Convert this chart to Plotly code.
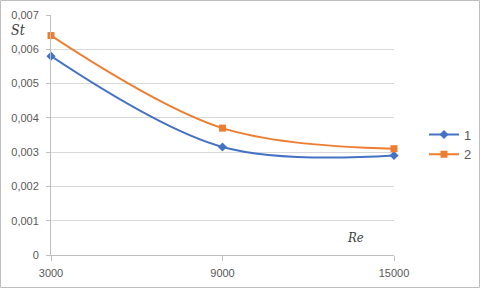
import plotly.graph_objects as go

re_values = [3000, 9000, 15000]
st_series1 = [0.0058, 0.00315, 0.0029]
st_series2 = [0.0064, 0.0037, 0.0031]
series_names = ["1", "2"]
y_tick_vals = [0, 0.001, 0.002, 0.003, 0.004, 0.005, 0.006, 0.007]
y_tick_text = ["0", "0,001", "0,002", "0,003", "0,004", "0,005", "0,006", "0,007"]
x_tick_text = ["3000", "9000", "15000"]

W, H = 481, 289
ML, MR, MT, MB = 51, 87, 15, 34

fig = go.Figure()
fig.add_trace(go.Scatter(
    x=re_values, y=st_series1, name=series_names[0], mode="lines+markers",
    line=dict(color="#4472C4", width=2, shape="spline", smoothing=1.0),
    marker=dict(symbol="diamond", size=7, color="#4472C4"),
    cliponaxis=False,
))
fig.add_trace(go.Scatter(
    x=re_values, y=st_series2, name=series_names[1], mode="lines+markers",
    line=dict(color="#ED7D31", width=2, shape="spline", smoothing=1.0),
    marker=dict(symbol="square", size=7, color="#ED7D31"),
    cliponaxis=False,
))

pw = W - ML - MR
ph = H - MT - MB
fig.add_shape(type="rect", xref="paper", yref="paper",
              x0=-(ML - 0.5) / pw, x1=1 + (MR - 1.5) / pw,
              y0=-(MB - 1.5) / ph, y1=1 + (MT - 0.5) / ph,
              line=dict(color="#bfbfbf", width=1), layer="above")

fig.add_annotation(text="<i>St</i>", xref="paper", yref="paper",
                   x=-(ML - 18) / pw, y=1 - (30 - MT) / ph, showarrow=False,
                   xanchor="center", yanchor="middle",
                   font=dict(family="DejaVu Serif Condensed, DejaVu Serif", size=14, color="#404040"))
fig.add_annotation(text="<i>Re</i>", xref="paper", yref="paper",
                   x=(355 - ML) / pw, y=1 - (237 - MT) / ph, showarrow=False,
                   xanchor="center", yanchor="middle",
                   font=dict(family="DejaVu Serif Condensed, DejaVu Serif", size=13, color="#404040"))

fig.update_layout(
    width=W, height=H,
    margin=dict(l=ML, r=MR, t=MT, b=MB, autoexpand=False),
    paper_bgcolor="white", plot_bgcolor="white",
    font=dict(family="Liberation Sans, Arial", size=11, color="#595959"),
    showlegend=True,
    legend=dict(xref="container", yref="container", x=424 / W, xanchor="left",
                y=1 - 144.5 / H, yanchor="middle",
                font=dict(size=13, color="#595959"), tracegroupgap=0,
                itemwidth=30, bgcolor="rgba(0,0,0,0)"),
    xaxis=dict(range=[3000, 15000], tickvals=re_values, ticktext=x_tick_text,
               showgrid=False, zeroline=False, showline=True, linecolor="#bfbfbf",
               ticks="outside", ticklen=5, tickcolor="#bfbfbf", ticklabelstandoff=3,
               tickfont=dict(size=11, color="#595959")),
    yaxis=dict(range=[0, 0.007], tickvals=y_tick_vals, ticktext=y_tick_text,
               showgrid=True, gridcolor="#d9d9d9", gridwidth=1, zeroline=False,
               showline=True, linecolor="#bfbfbf",
               ticks="outside", ticklen=4, tickcolor="#bfbfbf", ticklabelstandoff=5,
               tickfont=dict(size=11, color="#595959")),
)

fig.write_html("out.html", config={"displayModeBar": False},
               post_script="document.body.style.margin='0';document.body.style.overflow='hidden';")
